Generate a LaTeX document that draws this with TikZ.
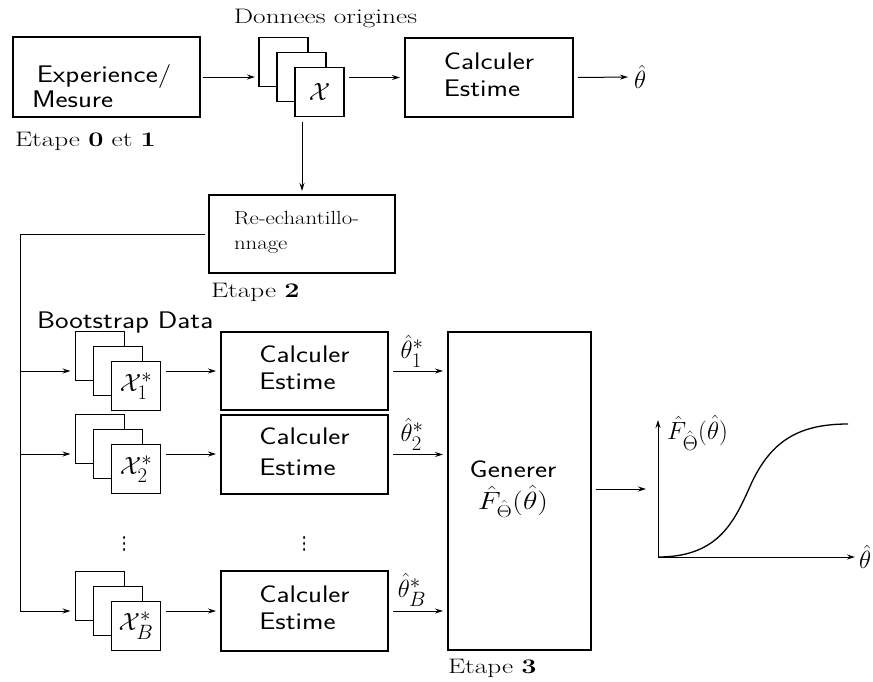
\documentclass[tikz,border=0pt]{standalone}
\usepackage{amsmath,amssymb}
\usepackage{graphicx}
\usetikzlibrary{arrows.meta,calc}
\newcommand{\hsl}[2]{\scalebox{#1}[1]{\begin{tabular}{@{}l@{}}#2\end{tabular}}}
\newcommand{\hsc}[2]{\scalebox{#1}[1]{\begin{tabular}{@{}c@{}}#2\end{tabular}}}
\begin{document}
\begin{tikzpicture}[x=1pt,y=-1pt,
  every node/.style={inner sep=0pt, outer sep=0pt},
  box/.style={draw, line width=1.2pt, fill=white},
  sheet/.style={draw, line width=1.2pt, fill=white, minimum width=49pt, minimum height=49pt},
  arr/.style={-{Stealth[length=8pt,width=5pt]}, line width=1pt},
  ln/.style={line width=1pt},
  sf/.style={font=\fontsize{24}{27}\selectfont\sffamily},
  rm/.style={font=\fontsize{21}{26}\selectfont},
  mt/.style={font=\fontsize{24.88}{30}\selectfont},
]
\useasboundingbox (0,0) rectangle (873,681);

% ---- top row
\node[box, minimum width=187pt, minimum height=80pt] (exp) at (106.5,77) {};
\node[sf, anchor=west] (expt) at (32,90) {\hsl{1.2}{\hspace{4pt}Experience/\\[-2pt]Mesure}};
\node[rm, anchor=west] (e01) at (15,141) {\hsl{1.3}{Etape $\mathbf{0}$ et $\mathbf{1}$}};

\node[rm] (don) at (325.5,18) {\hsl{1.3}{Donnees origines}};
\node[sheet] (o1) at (283.5,62) {};
\node[sheet] (o2) at (301.5,77) {};
\node[sheet, mt] (o3) at (319.5,92) {$\mathcal{X}$};

\node[box, minimum width=168pt, minimum height=79pt, sf] (c0) at (489,77.5) {\hsl{1.2}{Calculer\\Estime}\hspace{14pt}};
\node[mt, anchor=west] (th0) at (634,77) {$\hat{\theta}$};

\draw[arr, shorten <=3pt, shorten >=4pt] (exp.east) -- (exp.east -| o1.west);
\draw[arr, shorten <=5pt, shorten >=5pt] (c0.west -| o3.east) -- (c0.west);
\draw[arr, shorten <=5pt, shorten >=6pt] (c0.east) -- (th0.west);

% ---- resampling
\node[box, minimum width=186pt, minimum height=78pt] (rs) at (302,234) {};
\node[font=\fontsize{19}{25}\selectfont, anchor=west] (rst) at (234,232) {\hsl{1.2}{Re-echantillo-\\nnage}};
\node[rm, anchor=west] (e2) at (211,292) {\hsl{1.3}{Etape $\mathbf{2}$}};
\draw[arr, shorten <=5pt, shorten >=4pt] (rs.north |- o3.south) -- (rs.north);

\coordinate (bt) at (20,234);

% ---- bootstrap stacks
\node[sf, anchor=west] (bd) at (37,323) {\hsl{1.2}{Bootstrap Data}};

\node[sheet] (a1) at (100,356) {};
\node[sheet] (m1) at (118,371) {};
\node[sheet, mt] (s1) at (136,386) {$\mathcal{X}^{*}_{1}$};

\node[sheet] (a2) at (100,439) {};
\node[sheet] (m2) at (118,454) {};
\node[sheet, mt] (s2) at (136,469) {$\mathcal{X}^{*}_{2}$};

\node[sheet] (aB) at (100,596) {};
\node[sheet] (mB) at (118,611) {};
\node[sheet, mt] (sB) at (136,626) {$\mathcal{X}^{*}_{B}$};

\node[mt] (d1) at (125,539) {\scalebox{1}[1.5]{$\vdots$}};
\node[mt] (d2) at (305,539) {\scalebox{1}[1.5]{$\vdots$}};

\node[box, minimum width=167pt, minimum height=78pt, sf] (c1) at (304.5,371) {\hsl{1.2}{Calculer\\Estime}};
\node[box, minimum width=167pt, minimum height=79pt, sf] (c2) at (304.5,454.5) {\hsl{1.2}{Calculer\\[4pt]Estime}};
\node[box, minimum width=167pt, minimum height=80pt, sf] (cB) at (304.5,611) {\hsl{1.2}{Calculer\\Estime}};

\node[box, minimum width=143pt, minimum height=318pt] (gen) at (519.5,491) {};
\node[sf] (gent) at (513,488) {\hsc{1.2}{Generer\\$\hat{F}_{\hat{\Theta}}(\hat{\theta})$}};
\node[rm, anchor=west] (e3) at (448,668) {\hsl{1.3}{Etape $\mathbf{3}$}};

% bus
\draw[ln, shorten <=4pt] (rs.west) -- (bt);
\draw[arr, shorten >=5pt] (bt) |- (mB.west -| aB.west);
\draw[arr, shorten >=5pt] (bt |- m1) -- (m1.west -| a1.west);
\draw[arr, shorten >=5pt] (bt |- m2) -- (m2.west -| a2.west);

% stacks -> calc
\draw[arr, shorten <=5pt, shorten >=5pt] (m1 -| s1.east) -- (m1 -| c1.west);
\draw[arr, shorten <=5pt, shorten >=5pt] (m2 -| s2.east) -- (m2 -| c2.west);
\draw[arr, shorten <=5pt, shorten >=5pt] (mB -| sB.east) -- (mB -| cB.west);

% calc -> gen
\draw[arr, shorten <=5pt, shorten >=5pt] (c1.east) -- (c1.east -| gen.west);
\draw[arr, shorten <=5pt, shorten >=5pt] (c2.east) -- (c2.east -| gen.west);
\draw[arr, shorten <=5pt, shorten >=5pt] (cB.east) -- (cB.east -| gen.west);
\node[mt] (t1) at (412,351) {$\hat{\theta}^{*}_{1}$};
\node[mt] (t2) at (412,434) {$\hat{\theta}^{*}_{2}$};
\node[mt] (tB) at (412,590) {$\hat{\theta}^{*}_{B}$};

% graph
\coordinate (ge) at (646,489);
\draw[arr, shorten <=5pt] (gen.east |- ge) -- (ge);
\coordinate (O) at (658,557);
\coordinate (ya) at (658,420);
\coordinate (xa) at (855,557);
\draw[arr] (O) -- (ya);
\draw[arr] (O) -- (xa);
\node[mt, anchor=west] (thx) at (859,557) {$\hat{\theta}$};
\node[mt, anchor=west] (Fl) at (667,433) {$\hat{F}_{\hat{\Theta}}(\hat{\theta})$};
\draw[line width=1.3pt] (O) .. controls (720,557) and (735,520) .. (752,482) .. controls (772,440) and (800,424) .. (848,424);
\end{tikzpicture}
\end{document}
